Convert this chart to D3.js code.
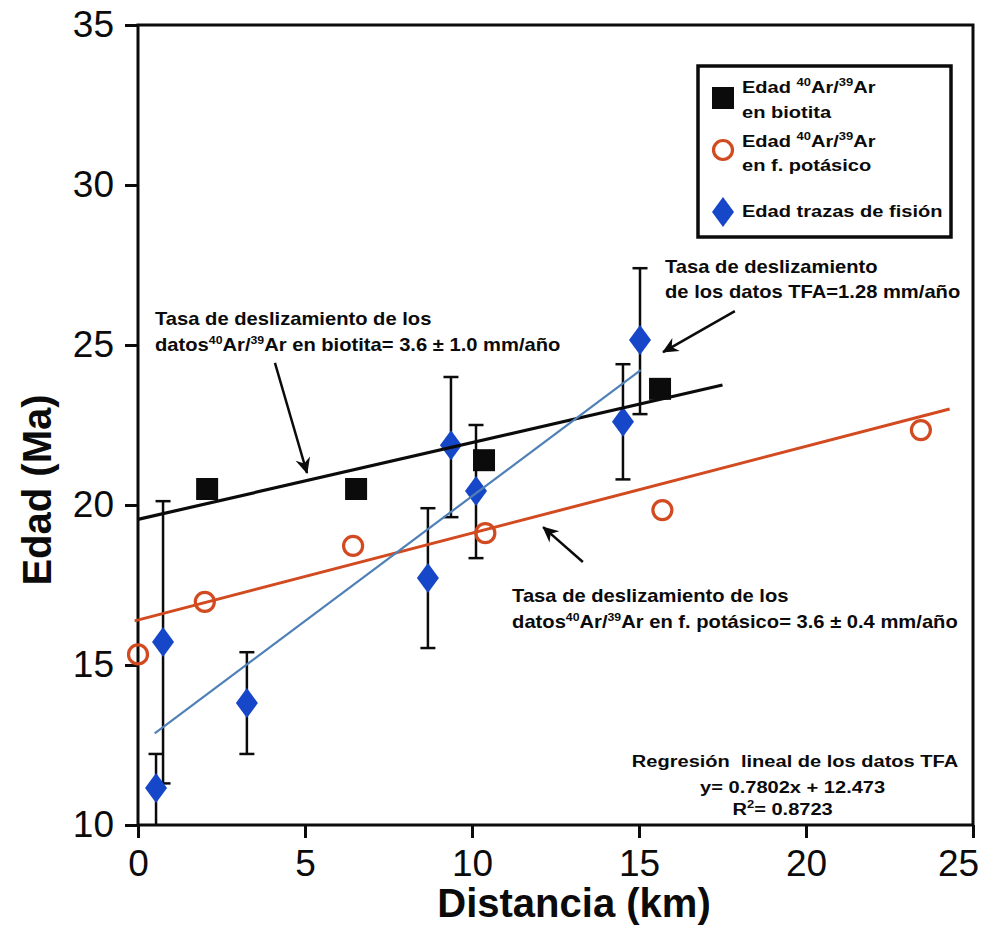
<!DOCTYPE html>
<html>
<head>
<meta charset="utf-8">
<script src="https://cdn.jsdelivr.net/npm/d3@7"></script>
<style>
  html, body { margin: 0; padding: 0; background: #fff; }
  svg { display: block; }
</style>
</head>
<body>
<svg id="chart" width="990" height="930"></svg>
<script>
// ---- Data (distance in km, age in Ma) ----
const xTicks = [0, 5, 10, 15, 20, 25];
const yTicks = [10, 15, 20, 25, 30, 35];

// 40Ar/39Ar ages on biotite
const bioDist = [2.07, 6.53, 10.36, 15.63];
const bioAge  = [20.5, 20.5, 21.4, 23.63];

// 40Ar/39Ar ages on K-feldspar
const kfsDist = [0.0, 2.0, 6.44, 10.4, 15.7, 23.44];
const kfsAge  = [15.33, 16.97, 18.72, 19.12, 19.84, 22.34];

// Fission-track ages with their error ranges
const tfaDist = [0.54, 0.75, 3.26, 8.68, 9.37, 10.12, 14.52, 15.03];
const tfaAge  = [11.16, 15.72, 13.81, 17.72, 21.87, 20.44, 22.6, 25.16];
const tfaLow  = [10.0, 11.3, 12.22, 15.53, 19.62, 18.34, 20.8, 22.84];
const tfaHigh = [12.22, 20.12, 15.4, 19.9, 24.0, 22.5, 24.4, 27.4];

// Fitted slip-rate lines (end points, km / Ma)
const bioFitX = [0, 17.5];
const bioFitY = [19.55, 23.75];
const kfsFitX = [-0.1, 24.3];
const kfsFitY = [16.38, 23.0];
// TFA linear regression: y = 0.7802x + 12.473
const tfaSlope = 0.7802, tfaIntercept = 12.473;
const tfaFitX = [0.5, 15.05];

// ---- Layout ----
const svg = d3.select("#chart");
const FONT = "'Liberation Sans', Arial, Helvetica, sans-serif";
const x = d3.scaleLinear().domain([0, 25]).range([138, 973]);
const y = d3.scaleLinear().domain([10, 35]).range([825, 25]);

const BLACK = "#0b0b0b", RED = "#d24a1f", BLUE_M = "#1747c9", BLUE_L = "#4f80b6";

// Axes
const gx = svg.append("g").attr("transform", `translate(0,${y(10)})`)
  .call(d3.axisBottom(x).tickValues(xTicks).tickSize(13).tickPadding(12).tickFormat(d3.format("d")));
const gy = svg.append("g").attr("transform", `translate(${x(0)},0)`)
  .call(d3.axisLeft(y).tickValues(yTicks).tickSize(13).tickPadding(11).tickFormat(d3.format("d")));
[gx, gy].forEach(g => {
  g.select(".domain").remove();
  g.selectAll(".tick line").attr("stroke", BLACK).attr("stroke-width", 3);
  g.selectAll(".tick text").attr("fill", BLACK).style("font-family", FONT).style("font-size", "37px");
});
// last distance label sits just inside the right edge
gx.selectAll(".tick text").filter(d => d === 25).attr("dx", -15);

// Plot frame
svg.append("rect")
  .attr("x", x(0)).attr("y", y(35))
  .attr("width", x(25) - x(0)).attr("height", y(10) - y(35))
  .attr("fill", "none").attr("stroke", BLACK).attr("stroke-width", 3);

// Axis titles
svg.append("text")
  .attr("x", 574).attr("y", 917)
  .attr("text-anchor", "middle")
  .style("font-family", FONT).style("font-size", "40px").style("font-weight", "bold")
  .attr("fill", BLACK)
  .text("Distancia (km)");
svg.append("text")
  .attr("transform", "translate(51,490) rotate(-90)")
  .attr("text-anchor", "middle")
  .style("font-family", FONT).style("font-size", "40px").style("font-weight", "bold")
  .attr("fill", BLACK)
  .text("Edad (Ma)");

// ---- Marks ----
const plot = svg.append("g");
const tfa = tfaDist.map((d, i) => ({ x: d, y: tfaAge[i], lo: tfaLow[i], hi: tfaHigh[i] }));

// error bars
const eb = plot.append("g").attr("stroke", BLACK).attr("stroke-width", 2.5);
eb.selectAll("line.v").data(tfa).join("line")
  .attr("x1", d => x(d.x)).attr("x2", d => x(d.x))
  .attr("y1", d => y(d.lo)).attr("y2", d => y(d.hi));
eb.selectAll("line.hi").data(tfa).join("line")
  .attr("x1", d => x(d.x) - 7.5).attr("x2", d => x(d.x) + 7.5)
  .attr("y1", d => y(d.hi)).attr("y2", d => y(d.hi));
eb.selectAll("line.lo").data(tfa.filter(d => d.lo > 10)).join("line")
  .attr("x1", d => x(d.x) - 7.5).attr("x2", d => x(d.x) + 7.5)
  .attr("y1", d => y(d.lo)).attr("y2", d => y(d.lo));

// marker shapes
const diamondPath = "M0,-15 L11,0 L0,15 L-11,0 Z";

plot.append("g").selectAll("rect").data(bioDist.map((d, i) => ({ x: d, y: bioAge[i] }))).join("rect")
  .attr("x", d => x(d.x) - 11).attr("y", d => y(d.y) - 11)
  .attr("width", 22).attr("height", 22).attr("fill", BLACK);

plot.append("g").selectAll("circle").data(kfsDist.map((d, i) => ({ x: d, y: kfsAge[i] }))).join("circle")
  .attr("cx", d => x(d.x)).attr("cy", d => y(d.y)).attr("r", 9.5)
  .attr("fill", "none").attr("stroke", RED).attr("stroke-width", 3.2);

plot.append("g").selectAll("path").data(tfa).join("path")
  .attr("transform", d => `translate(${x(d.x)},${y(d.y)})`)
  .attr("d", diamondPath).attr("fill", BLUE_M);

// fit lines
const line = d3.line().x(d => x(d[0])).y(d => y(d[1]));
plot.append("path").datum(bioFitX.map((d, i) => [d, bioFitY[i]]))
  .attr("d", line).attr("fill", "none").attr("stroke", BLACK).attr("stroke-width", 3.2);
plot.append("path").datum(kfsFitX.map((d, i) => [d, kfsFitY[i]]))
  .attr("d", line).attr("fill", "none").attr("stroke", RED).attr("stroke-width", 3);
plot.append("path").datum(tfaFitX.map(d => [d, tfaSlope * d + tfaIntercept]))
  .attr("d", line).attr("fill", "none").attr("stroke", BLUE_L).attr("stroke-width", 2.2);

// ---- Annotations ----
svg.append("defs").append("marker")
  .attr("id", "head").attr("viewBox", "-16 -8 18 16")
  .attr("refX", 0).attr("refY", 0)
  .attr("markerWidth", 18).attr("markerHeight", 16)
  .attr("markerUnits", "userSpaceOnUse").attr("orient", "auto")
  .append("path").attr("d", "M1,0 L-15,-7.5 L-10,0 L-15,7.5 Z").attr("fill", BLACK);

const arrows = [
  { x1: 4.10, y1: 24.44, x2: 5.06, y2: 21.0 },
  { x1: 17.87, y1: 26.06, x2: 15.72, y2: 24.78 },
  { x1: 13.32, y1: 18.22, x2: 12.13, y2: 19.31 }
];
svg.append("g").selectAll("line").data(arrows).join("line")
  .attr("x1", d => x(d.x1)).attr("y1", d => y(d.y1))
  .attr("x2", d => x(d.x2)).attr("y2", d => y(d.y2))
  .attr("stroke", BLACK).attr("stroke-width", 2.5)
  .attr("marker-end", "url(#head)");

// Bold text with superscripts; sx stretches it horizontally
function richText(parent, px, py, parts, size, sx, anchor) {
  const g = parent.append("g").attr("transform", `translate(${px},${py}) scale(${sx},1)`);
  const t = g.append("text")
    .attr("text-anchor", anchor || "start")
    .style("font-family", FONT).style("font-weight", "bold")
    .style("font-size", size + "px").attr("fill", BLACK);
  let raised = false;
  parts.forEach(p => {
    const sup = Array.isArray(p);
    const s = t.append("tspan").text(sup ? p[0] : p);
    if (sup) {
      s.style("font-size", Math.round(size * 0.62) + "px").attr("dy", -size * 0.4);
      raised = true;
    } else if (raised) {
      s.attr("dy", size * 0.4);
      raised = false;
    }
  });
  return t;
}

const A = 18, AS = 1.12;
richText(svg, x(0.51), y(25.625), ["Tasa de deslizamiento de los"], A, AS);
richText(svg, x(0.51), y(25.625) + 26, ["datos", ["40"], "Ar/", ["39"], "Ar en biotita= 3.6 \u00b1 1.0 mm/a\u00f1o"], A, AS);

richText(svg, x(15.78), y(27.25), ["Tasa de deslizamiento"], A, AS);
richText(svg, x(15.78), y(27.25) + 25, ["de los datos TFA=1.28 mm/a\u00f1o"], A, AS);

richText(svg, x(11.2), y(16.97), ["Tasa de deslizamiento de los"], A, AS);
richText(svg, x(11.2), y(16.97) + 26, ["datos", ["40"], "Ar/", ["39"], "Ar en f. pot\u00e1sico= 3.6 \u00b1 0.4 mm/a\u00f1o"], A, AS);

const R = 17, RS = 1.18;
richText(svg, x(19.67), y(11.81), ["Regresi\u00f3n  lineal de los datos TFA"], R, RS, "middle").style("white-space", "pre");
richText(svg, x(19.6), y(11.81) + 26, ["y= 0.7802x + 12.473"], R, RS, "middle");
richText(svg, x(19.3), y(11.81) + 48, ["R", ["2"], "= 0.8723"], R, RS, "middle");

// ---- Legend ----
const lg = svg.append("g").attr("transform", "translate(698,66)");
lg.append("rect").attr("width", 253).attr("height", 171)
  .attr("fill", "#fff").attr("stroke", BLACK).attr("stroke-width", 3.5);
lg.append("rect").attr("x", 14).attr("y", 21).attr("width", 22).attr("height", 22).attr("fill", BLACK);
lg.append("circle").attr("cx", 25).attr("cy", 84).attr("r", 9.5)
  .attr("fill", "none").attr("stroke", RED).attr("stroke-width", 3.2);
lg.append("path").attr("transform", "translate(25,146)").attr("d", diamondPath).attr("fill", BLUE_M);

const L = 17, LS = 1.18;
richText(lg, 44, 27, ["Edad ", ["40"], "Ar/", ["39"], "Ar"], L, LS);
richText(lg, 44, 52, ["en biotita"], L, LS);
richText(lg, 44, 81, ["Edad ", ["40"], "Ar/", ["39"], "Ar"], L, LS);
richText(lg, 44, 105, ["en f. pot\u00e1sico"], L, LS);
richText(lg, 44, 151, ["Edad trazas de fisi\u00f3n"], L, LS);
</script>
</body>
</html>
